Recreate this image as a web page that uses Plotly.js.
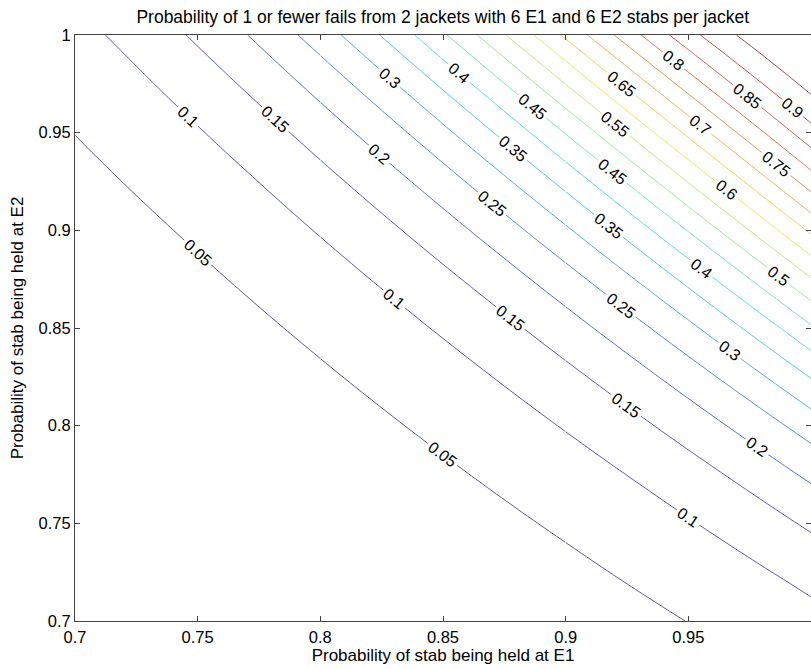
<!DOCTYPE html>
<html>
<head>
<meta charset="utf-8">
<script src="https://cdn.plot.ly/plotly-3.0.1.min.js"></script>
<style>html,body{margin:0;padding:0;background:#fff;}#chart{width:811px;height:669px;}</style>
</head>
<body>
<div id="chart"></div>
<script>
// Grid of holding probabilities (x: E1, y: E2)
var probE1 = [0.70,0.71,0.72,0.73,0.74,0.75,0.76,0.77,0.78,0.79,0.80,0.81,0.82,0.83,0.84,0.85,0.86,0.87,0.88,0.89,0.90,0.91,0.92,0.93,0.94,0.95,0.96,0.97,0.98,0.99,1.00];
var probE2 = [0.70,0.71,0.72,0.73,0.74,0.75,0.76,0.77,0.78,0.79,0.80,0.81,0.82,0.83,0.84,0.85,0.86,0.87,0.88,0.89,0.90,0.91,0.92,0.93,0.94,0.95,0.96,0.97,0.98,0.99,1.00];
// Model stated in the title: 2 jackets x 6 stabs at E1 and at E2, 1 or fewer fails
var jackets = 2;
var stabsE1 = 6;
var stabsE2 = 6;
var maxFails = 1;
var levels = [0.05,0.10,0.15,0.20,0.25,0.30,0.35,0.40,0.45,0.50,0.55,0.60,0.65,0.70,0.75,0.80,0.85,0.90,0.95];
var xTicks = [0.7,0.75,0.8,0.85,0.9,0.95,1];
var xTickText = ['0.7','0.75','0.8','0.85','0.9','0.95','1'];
var yTicks = [0.7,0.75,0.8,0.85,0.9,0.95,1];
var yTickText = ['0.7','0.75','0.8','0.85','0.9','0.95','1'];

var nE1 = jackets * stabsE1, nE2 = jackets * stabsE2;
var z = probE2.map(function (p2) {
  return probE1.map(function (p1) {
    var all = Math.pow(p1, nE1) * Math.pow(p2, nE2);
    var oneE1 = nE1 * (1 - p1) * Math.pow(p1, nE1 - 1) * Math.pow(p2, nE2);
    var oneE2 = nE2 * (1 - p2) * Math.pow(p2, nE2 - 1) * Math.pow(p1, nE1);
    return maxFails >= 1 ? all + oneE1 + oneE2 : all;
  });
});

var jet = [[0,'rgb(45,45,125)'],[0.125,'rgb(45,45,215)'],[0.375,'rgb(40,215,225)'],[0.625,'rgb(232,232,45)'],[0.875,'rgb(220,55,45)'],[1,'rgb(130,35,35)']];
var FONT = 'Liberation Sans, Arial, Helvetica, sans-serif';

// The field is drawn as adjoining column bands (sharing their edge column)
// so that each band carries its own set of in-line labels, as in the original.
var bandEdges = [0, 10, 20, 30];
var traces = [];
for (var b = 0; b < bandEdges.length - 1; b++) {
  var i0 = bandEdges[b], i1 = bandEdges[b + 1];
  traces.push({
    type: 'contour',
    x: probE1.slice(i0, i1 + 1), y: probE2,
    z: z.map(function (row) { return row.slice(i0, i1 + 1); }),
    colorscale: jet,
    zauto: false, zmin: 0, zmax: 1,
    autocontour: false,
    contours: {
      coloring: 'lines',
      start: levels[0], end: levels[levels.length-1], size: levels[1]-levels[0],
      showlabels: true,
      labelformat: '.2~f',
      labelfont: {family: FONT, size: 16, color: '#000'}
    },
    line: {width: 0.8, smoothing: 1},
    showscale: false,
    hoverinfo: 'skip'
  });
}

var axisCommon = {
  showgrid: false, zeroline: false,
  showline: true, linecolor: '#444', linewidth: 1,
  mirror: 'ticks', ticks: 'inside', ticklen: 5, tickcolor: '#444',
  tickfont: {family: FONT, size: 16.5, color: '#000'}
};

var layout = {
  width: 811, height: 669,
  margin: {l: 75, r: 0, t: 35, b: 48},
  paper_bgcolor: '#fff', plot_bgcolor: '#fff',
  showlegend: false,
  title: {text: 'Probability of 1 or fewer fails from 2 jackets with 6 E1 and 6 E2 stabs per jacket',
          font: {family: FONT, size: 17.5, color: '#000'},
          x: 0.546, xanchor: 'center', y: 0.975, yanchor: 'middle'},
  xaxis: Object.assign({}, axisCommon, {
    range: [0.7, 1], tickvals: xTicks, ticktext: xTickText, ticklabelstandoff: 1,
    title: {text: 'Probability of stab being held at E1', standoff: 1,
            font: {family: FONT, size: 17, color: '#000'}}
  }),
  yaxis: Object.assign({}, axisCommon, {
    range: [0.7, 1], tickvals: yTicks, ticktext: yTickText,
    title: {text: 'Probability of stab being held at E2', standoff: 10,
            font: {family: FONT, size: 17, color: '#000'}}
  })
};

Plotly.newPlot('chart', traces, layout, {displayModeBar: false, staticPlot: true});
</script>
</body>
</html>
